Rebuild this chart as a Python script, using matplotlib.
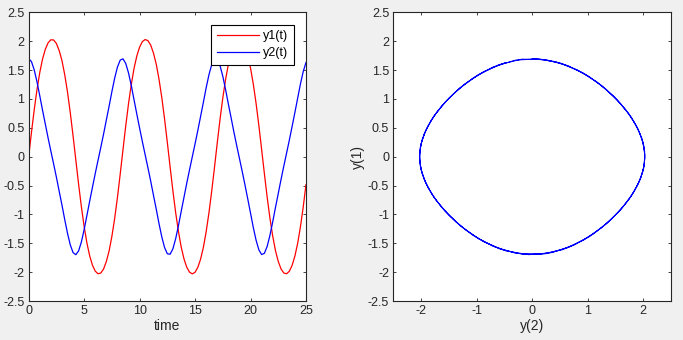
import matplotlib
matplotlib.use('Agg')
import matplotlib.pyplot as plt
import numpy as np

plt.rcParams['font.family'] = ['Liberation Sans', 'DejaVu Sans']

# sample times (step 0.25) and the two solution components
t = np.arange(0, 25.001, 0.25)
y1 = [0.000, 0.420, 0.814, 1.165, 1.459, 1.692, 1.860, 1.972, 2.025, 2.021,
      1.960, 1.838, 1.663, 1.420, 1.119, 0.761, 0.362, -0.059, -0.477, -0.866,
      -1.209, -1.496, -1.719, -1.880, -1.983, -2.028, -2.016, -1.947, -1.817, -1.633,
      -1.381, -1.072, -0.709, -0.304, 0.119, 0.534, 0.917, 1.249, 1.531, 1.745,
      1.898, 1.993, 2.029, 2.010, 1.933, 1.794, 1.602, 1.341, 1.024, 0.654,
      0.245, -0.178, -0.590, -0.968, -1.294, -1.565, -1.770, -1.915, -2.001, -2.030,
      -2.002, -1.917, -1.774, -1.570, -1.300, -0.975, -0.598, -0.187, 0.238, 0.646,
      1.017, 1.335, 1.597, 1.791, 1.930, 2.009, 2.030, 1.994, 1.900, 1.749,
      1.536, 1.257, 0.924, 0.542, 0.127, -0.295, -0.700, -1.065, -1.375, -1.629,
      -1.814, -1.945, -2.015, -2.028, -1.985, -1.882, -1.722, -1.501, -1.214, -0.873,
      -0.485]
y2 = [1.699, 1.647, 1.503, 1.295, 1.054, 0.804, 0.564, 0.324, 0.096, -0.128,
      -0.357, -0.599, -0.838, -1.090, -1.327, -1.528, -1.661, -1.698, -1.632, -1.478,
      -1.263, -1.017, -0.770, -0.529, -0.292, -0.065, 0.160, 0.390, 0.634, 0.874,
      1.125, 1.358, 1.551, 1.672, 1.695, 1.615, 1.451, 1.233, 0.983, 0.736,
      0.495, 0.260, 0.034, -0.191, -0.423, -0.669, -0.909, -1.159, -1.389, -1.573,
      -1.682, -1.690, -1.597, -1.422, -1.197, -0.948, -0.704, -0.461, -0.228, -0.002,
      0.223, 0.456, 0.699, 0.943, 1.193, 1.418, 1.594, 1.689, 1.683, 1.576,
      1.393, 1.164, 0.914, 0.674, 0.428, 0.196, -0.029, -0.255, -0.490, -0.731,
      -0.978, -1.226, -1.446, -1.613, -1.695, -1.674, -1.555, -1.363, -1.130, -0.879,
      -0.639, -0.395, -0.164, 0.061, 0.287, 0.524, 0.766, 1.013, 1.259, 1.474,
      1.630]

y_ticks = [-2.5, -2, -1.5, -1, -0.5, 0, 0.5, 1, 1.5, 2, 2.5]
t_ticks = [0, 5, 10, 15, 20, 25]
x_ticks_phase = [-2, -1, 0, 1, 2]

grey = '#262626'

fig = plt.figure(figsize=(6.83, 3.4), dpi=100, facecolor='#f0f0f0')
ax1 = fig.add_axes([0.042, 0.1147, 0.406, 0.849])
ax2 = fig.add_axes([0.5759, 0.1147, 0.4066, 0.849])


def fmt(v):
    return ('%g' % v)


for ax in (ax1, ax2):
    ax.set_facecolor('white')
    for s in ax.spines.values():
        s.set_color(grey)
        s.set_linewidth(0.8)
    ax.tick_params(direction='in', length=2.5, width=0.6, colors=grey,
                   labelsize=9, top=True, right=True, pad=3)
    ax.set_ylim(-2.5, 2.5)
    ax.set_yticks(y_ticks)
    ax.set_yticklabels([fmt(v) for v in y_ticks])

ax1.plot(t, y1, color='red', lw=0.9, label='y1(t)')
ax1.plot(t, y2, color='blue', lw=0.9, label='y2(t)')
ax1.set_xlim(0, 25)
ax1.set_xticks(t_ticks)
ax1.set_xticklabels([fmt(v) for v in t_ticks])
ax1.set_xlabel('time', fontsize=10, color=grey, labelpad=1)
leg = ax1.legend(loc='upper right', bbox_to_anchor=(0.955, 0.957),
                 borderaxespad=0, fontsize=9, fancybox=False, framealpha=1,
                 handlelength=3.4, handletextpad=0.3, borderpad=0.45,
                 labelspacing=0.4)
leg.get_frame().set_edgecolor('black')
leg.get_frame().set_linewidth(0.8)

# phase curve: the three cycles overlap, so keep the line thin
ax2.plot(y1, y2, color='blue', lw=0.7)
ax2.set_xlim(-2.5, 2.5)
ax2.set_xticks(x_ticks_phase)
ax2.set_xticklabels([fmt(v) for v in x_ticks_phase])
ax2.set_xlabel('y(2)', fontsize=10, color=grey, labelpad=1)
ax2.set_ylabel('y(1)', fontsize=10, color=grey, labelpad=2)

plt.savefig('out.png', dpi=100, facecolor=fig.get_facecolor())
